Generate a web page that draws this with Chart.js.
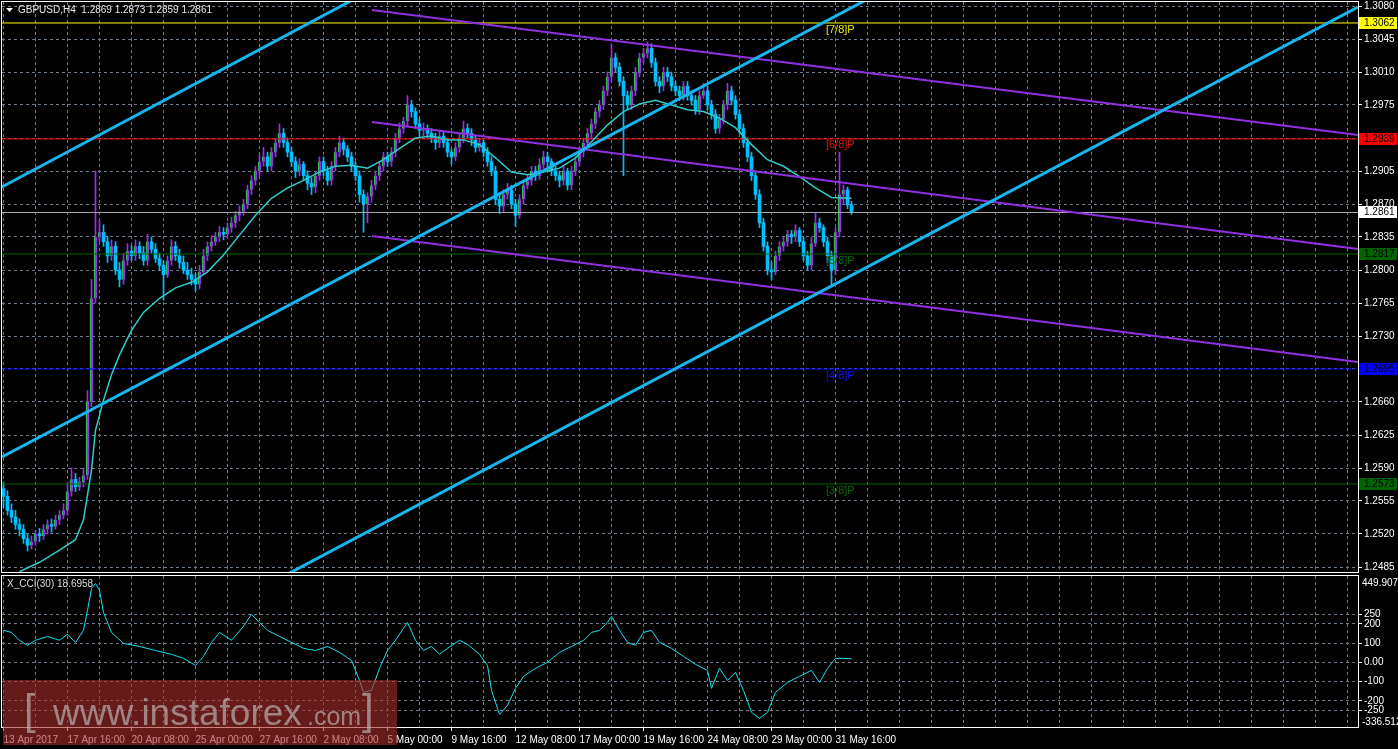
<!DOCTYPE html>
<html>
<head>
<meta charset="utf-8">
<script src="https://cdn.jsdelivr.net/npm/chart.js@4"></script>
<style>
  html, body { margin: 0; padding: 0; background: #000; overflow: hidden; }
  #wrap { position: relative; width: 1398px; height: 749px; }
  #main { position: absolute; left: 0; top: 0; }
  #cci { position: absolute; left: 0; top: 574px; }
</style>
</head>
<body>
<div id="wrap">
  <canvas id="main" width="1398" height="574"></canvas>
  <canvas id="cci" width="1398" height="175"></canvas>
</div>
<script>
// GBPUSD H4, 13 Apr – 1 Jun 2017. One entry per 4h bar, bar index = position.
const open = [
  1.2568,1.2560,1.2545,1.2538,1.2530,1.2525,1.2515,1.2508,1.2512,1.2520,
  1.2518,1.2525,1.2530,1.2528,1.2535,1.2540,1.2545,1.2565,1.2578,1.2570,
  1.2575,1.2582,1.2660,1.2770,1.2835,1.2840,1.2830,1.2815,1.2825,1.2800,
  1.2790,1.2810,1.2820,1.2815,1.2825,1.2818,1.2810,1.2830,1.2822,1.2812,
  1.2805,1.2795,1.2810,1.2825,1.2815,1.2808,1.2800,1.2795,1.2790,1.2785,
  1.2798,1.2815,1.2825,1.2830,1.2835,1.2840,1.2838,1.2845,1.2850,1.2858,
  1.2862,1.2870,1.2885,1.2895,1.2905,1.2915,1.2920,1.2910,1.2925,1.2935,
  1.2945,1.2935,1.2925,1.2915,1.2905,1.2912,1.2900,1.2892,1.2888,1.2900,
  1.2915,1.2905,1.2895,1.2910,1.2925,1.2935,1.2928,1.2920,1.2910,1.2900,
  1.2880,1.2870,1.2878,1.2890,1.2900,1.2910,1.2920,1.2915,1.2925,1.2940,
  1.2950,1.2958,1.2975,1.2968,1.2955,1.2948,1.2950,1.2945,1.2940,1.2935,
  1.2942,1.2935,1.2925,1.2920,1.2930,1.2940,1.2950,1.2945,1.2938,1.2930,
  1.2935,1.2925,1.2915,1.2905,1.2875,1.2868,1.2880,1.2885,1.2870,1.2858,
  1.2875,1.2890,1.2895,1.2905,1.2900,1.2912,1.2920,1.2915,1.2905,1.2900,
  1.2895,1.2905,1.2890,1.2905,1.2915,1.2925,1.2935,1.2945,1.2955,1.2968,
  1.2975,1.2990,1.3005,1.3025,1.3015,1.3000,1.2985,1.2975,1.2990,1.3010,
  1.3025,1.3030,1.3035,1.3020,1.3000,1.2995,1.3010,1.3005,1.2995,1.2990,
  1.2985,1.2995,1.2985,1.2980,1.2970,1.2985,1.2990,1.2975,1.2965,1.2950,
  1.2960,1.2975,1.2990,1.2980,1.2965,1.2950,1.2935,1.2920,1.2900,1.2880,
  1.2850,1.2825,1.2800,1.2798,1.2815,1.2825,1.2830,1.2838,1.2835,1.2842,
  1.2830,1.2815,1.2805,1.2828,1.2850,1.2845,1.2830,1.2815,1.2800,1.2840,
  1.2880,1.2885,1.2869
];
const high = [
  1.2575,1.2566,1.2552,1.2545,1.2536,1.2530,1.2520,1.2518,1.2524,1.2526,
  1.2530,1.2535,1.2536,1.2540,1.2545,1.2552,1.2575,1.2590,1.2584,1.2580,
  1.2590,1.2672,1.2790,1.2905,1.2852,1.2848,1.2836,1.2832,1.2830,1.2808,
  1.2818,1.2828,1.2826,1.2832,1.2830,1.2825,1.2838,1.2835,1.2828,1.2818,
  1.2810,1.2815,1.2832,1.2830,1.2822,1.2815,1.2808,1.2802,1.2796,1.2805,
  1.2822,1.2830,1.2836,1.2840,1.2846,1.2845,1.2850,1.2856,1.2862,1.2868,
  1.2875,1.2890,1.2900,1.2910,1.2922,1.2930,1.2925,1.2930,1.2940,1.2955,
  1.2950,1.2940,1.2930,1.2920,1.2918,1.2915,1.2905,1.2898,1.2905,1.2920,
  1.2920,1.2910,1.2915,1.2930,1.2942,1.2940,1.2932,1.2925,1.2915,1.2905,
  1.2885,1.2882,1.2895,1.2905,1.2915,1.2925,1.2925,1.2930,1.2945,1.2956,
  1.2962,1.2985,1.2980,1.2972,1.2960,1.2956,1.2954,1.2950,1.2945,1.2948,
  1.2946,1.2940,1.2928,1.2935,1.2945,1.2958,1.2955,1.2950,1.2942,1.2940,
  1.2938,1.2930,1.2920,1.2910,1.2880,1.2885,1.2892,1.2890,1.2875,1.2880,
  1.2895,1.2900,1.2910,1.2910,1.2918,1.2926,1.2925,1.2918,1.2910,1.2905,
  1.2910,1.2908,1.2910,1.2920,1.2930,1.2940,1.2950,1.2960,1.2972,1.2980,
  1.2995,1.3010,1.3040,1.3030,1.3020,1.3005,1.2990,1.2995,1.3015,1.3030,
  1.3035,1.3042,1.3040,1.3025,1.3005,1.3015,1.3015,1.3010,1.3000,1.2995,
  1.3000,1.3000,1.2990,1.2985,1.2990,1.2998,1.2995,1.2980,1.2970,1.2965,
  1.2980,1.2998,1.2995,1.2985,1.2970,1.2955,1.2940,1.2925,1.2905,1.2885,
  1.2855,1.2830,1.2808,1.2820,1.2830,1.2835,1.2842,1.2842,1.2848,1.2845,
  1.2835,1.2820,1.2835,1.2860,1.2855,1.2848,1.2835,1.2820,1.2845,1.2925,
  1.2890,1.2888,1.2873
];
const low = [
  1.2548,1.2540,1.2532,1.2525,1.2518,1.2510,1.2502,1.2504,1.2508,1.2512,
  1.2514,1.2520,1.2522,1.2525,1.2530,1.2536,1.2540,1.2560,1.2565,1.2566,
  1.2570,1.2578,1.2655,1.2765,1.2830,1.2825,1.2808,1.2810,1.2795,1.2782,
  1.2785,1.2805,1.2810,1.2810,1.2812,1.2805,1.2805,1.2818,1.2808,1.2800,
  1.2768,1.2792,1.2805,1.2810,1.2802,1.2796,1.2790,1.2784,1.2778,1.2780,
  1.2795,1.2810,1.2820,1.2826,1.2830,1.2832,1.2834,1.2840,1.2845,1.2852,
  1.2858,1.2865,1.2880,1.2890,1.2900,1.2910,1.2905,1.2905,1.2920,1.2930,
  1.2930,1.2920,1.2910,1.2898,1.2900,1.2895,1.2885,1.2880,1.2882,1.2895,
  1.2900,1.2890,1.2890,1.2905,1.2920,1.2922,1.2915,1.2905,1.2895,1.2872,
  1.2840,1.2850,1.2872,1.2885,1.2895,1.2905,1.2910,1.2910,1.2920,1.2935,
  1.2945,1.2952,1.2962,1.2950,1.2942,1.2942,1.2940,1.2935,1.2928,1.2930,
  1.2930,1.2920,1.2912,1.2916,1.2925,1.2935,1.2940,1.2932,1.2925,1.2926,
  1.2920,1.2910,1.2900,1.2870,1.2860,1.2862,1.2875,1.2865,1.2846,1.2855,
  1.2870,1.2886,1.2890,1.2895,1.2896,1.2908,1.2910,1.2900,1.2895,1.2888,
  1.2890,1.2885,1.2885,1.2900,1.2910,1.2920,1.2930,1.2940,1.2950,1.2962,
  1.2970,1.2985,1.3000,1.3010,1.2995,1.2900,1.2970,1.2970,1.2985,1.3005,
  1.3020,1.3025,1.3015,1.2995,1.2988,1.2990,1.3000,1.2990,1.2985,1.2980,
  1.2980,1.2980,1.2975,1.2965,1.2965,1.2982,1.2970,1.2960,1.2945,1.2945,
  1.2955,1.2970,1.2975,1.2960,1.2945,1.2930,1.2915,1.2895,1.2875,1.2845,
  1.2820,1.2795,1.2790,1.2795,1.2810,1.2820,1.2825,1.2828,1.2830,1.2825,
  1.2810,1.2800,1.2800,1.2825,1.2840,1.2825,1.2808,1.2782,1.2795,1.2835,
  1.2870,1.2865,1.2859
];
const close = [
  1.2560,1.2545,1.2538,1.2530,1.2525,1.2515,1.2508,1.2512,1.2520,1.2518,
  1.2525,1.2530,1.2528,1.2535,1.2540,1.2545,1.2565,1.2578,1.2570,1.2575,
  1.2582,1.2660,1.2770,1.2835,1.2840,1.2830,1.2815,1.2825,1.2800,1.2790,
  1.2810,1.2820,1.2815,1.2825,1.2818,1.2810,1.2830,1.2822,1.2812,1.2805,
  1.2795,1.2810,1.2825,1.2815,1.2808,1.2800,1.2795,1.2790,1.2785,1.2798,
  1.2815,1.2825,1.2830,1.2835,1.2840,1.2838,1.2845,1.2850,1.2858,1.2862,
  1.2870,1.2885,1.2895,1.2905,1.2915,1.2920,1.2910,1.2925,1.2935,1.2945,
  1.2935,1.2925,1.2915,1.2905,1.2912,1.2900,1.2892,1.2888,1.2900,1.2915,
  1.2905,1.2895,1.2910,1.2925,1.2935,1.2928,1.2920,1.2910,1.2900,1.2880,
  1.2870,1.2878,1.2890,1.2900,1.2910,1.2920,1.2915,1.2925,1.2940,1.2950,
  1.2958,1.2975,1.2968,1.2955,1.2948,1.2950,1.2945,1.2940,1.2935,1.2942,
  1.2935,1.2925,1.2920,1.2930,1.2940,1.2950,1.2945,1.2938,1.2930,1.2935,
  1.2925,1.2915,1.2905,1.2875,1.2868,1.2880,1.2885,1.2870,1.2858,1.2875,
  1.2890,1.2895,1.2905,1.2900,1.2912,1.2920,1.2915,1.2905,1.2900,1.2895,
  1.2905,1.2890,1.2905,1.2915,1.2925,1.2935,1.2945,1.2955,1.2968,1.2975,
  1.2990,1.3005,1.3025,1.3015,1.3000,1.2985,1.2975,1.2990,1.3010,1.3025,
  1.3030,1.3035,1.3020,1.3000,1.2995,1.3010,1.3005,1.2995,1.2990,1.2985,
  1.2995,1.2985,1.2980,1.2970,1.2985,1.2990,1.2975,1.2965,1.2950,1.2960,
  1.2975,1.2990,1.2980,1.2965,1.2950,1.2935,1.2920,1.2900,1.2880,1.2850,
  1.2825,1.2800,1.2798,1.2815,1.2825,1.2830,1.2838,1.2835,1.2842,1.2830,
  1.2815,1.2805,1.2828,1.2850,1.2845,1.2830,1.2815,1.2800,1.2840,1.2880,
  1.2885,1.2869,1.2861
];

// moving average: [bar, price]
const maPoints = [
  [4,1.2480],[9,1.2490],[14,1.2503],[18,1.2514],[20,1.2535],[22,1.2588],[23,1.2630],
  [25,1.2662],[27,1.2689],[29,1.2710],[32,1.2736],[35,1.2755],[39,1.2770],[43,1.2781],
  [47,1.2787],[51,1.2798],[55,1.2816],[59,1.2837],[63,1.2858],[67,1.2876],[71,1.2887],
  [75,1.2895],[79,1.2904],[83,1.2910],[87,1.2911],[91,1.2908],[95,1.2917],[99,1.2929],
  [103,1.2940],[107,1.2942],[111,1.2938],[115,1.2938],[119,1.2933],[123,1.2919],
  [127,1.2904],[131,1.2901],[135,1.2904],[139,1.2908],[143,1.2919],[147,1.2936],
  [151,1.2954],[155,1.2968],[159,1.2976],[163,1.2980],[167,1.2975],[171,1.2970],
  [175,1.2968],[179,1.2961],[183,1.2951],[187,1.2933],[191,1.2917],[195,1.2910],
  [199,1.2899],[203,1.2887],[207,1.2877],[212,1.2876]
];

// X_CCI(30): [bar, value]
const cciPoints = [
  [0,167],[2,156],[4,115],[6,89],[8,115],[11,135],[14,115],[16,146],[18,104],[20,167],
  [21,271],[22,385],[23,411],[24,375],[25,260],[27,156],[30,99],[34,83],[38,62],[42,42],
  [45,21],[48,-16],[50,31],[52,104],[54,156],[57,115],[60,188],[62,250],[64,208],[66,167],
  [69,135],[72,104],[75,73],[78,62],[81,83],[84,52],[87,10],[89,-94],[90,-156],[92,-146],
  [94,-31],[96,62],[98,115],[100,177],[101,208],[103,115],[105,62],[107,83],[109,42],
  [111,73],[114,115],[116,94],[119,42],[121,-16],[122,-146],[124,-271],[126,-224],
  [128,-135],[130,-73],[133,-31],[136,0],[139,52],[142,83],[145,115],[147,156],[149,167],
  [151,208],[152,240],[154,167],[156,104],[158,89],[160,156],[162,167],[164,104],[167,73],
  [170,31],[173,-10],[176,-42],[177,-135],[179,-31],[181,-94],[183,-52],[185,-146],
  [187,-260],[189,-292],[191,-260],[193,-156],[196,-104],[199,-73],[202,-42],[204,-104],
  [206,-31],[208,21],[210,21],[212,18.6958]
];

// time axis labels every 16 bars
const timeLabels = ['13 Apr 2017','17 Apr 16:00','20 Apr 08:00','25 Apr 00:00','27 Apr 16:00',
  '2 May 08:00','5 May 00:00','9 May 16:00','12 May 08:00','17 May 00:00','19 May 16:00',
  '24 May 08:00','29 May 00:00','31 May 16:00'];
const priceTicks = [1.3080,1.3045,1.3010,1.2975,1.2940,1.2905,1.2870,1.2835,1.2800,1.2765,
  1.2730,1.2695,1.2660,1.2625,1.2590,1.2555,1.2520,1.2485];
const cciTicks = [449.9074,250,200,100,0,-100,-200,-250,-336.512];
const cciTickText = ['449.9074','250','200','100','0.00','-100','-200','-250','-336.512'];

// Murrey math levels
const levels = [1.3062, 1.2939, 1.2861, 1.2817, 1.2695, 1.2573];
const levelText = ['1.3062','1.2939','1.2861','1.2817','1.2695','1.2573'];
const murreyText = ['[7/8]P','[6/8]P','','[5/8]P','[4/8]P','[3/8]P'];

// drawn objects: [bar0, price0, bar1, price1]
const cyanChannel = [
  [-0.875,1.28870, 89.1,1.30906],
  [-0.375,1.26017, 216.6,1.30885],
  [70.6,1.24765, 338.6,1.30789]
];
const pitchfork = [
  [92.1,1.30758, 338.6,1.29432],
  [92.1,1.29570, 338.6,1.28223],
  [92.1,1.28361, 338.6,1.27024]
];

// ---- styling / layout ----
const BULL = '#9b2ff2', BULL_EDGE = '#00ff00', BEAR = '#00bfff';
const GRID = '#6f7d8c';
const levelColors = ['#ffff00','#ff0000','#a8a8a8','#006400','#0000ff','#006400'];
const tagColors = ['#ffff00','#ff0000','#ffffff','#006400','#0000ff','#006400'];
const murreyColors = ['#e8e800','#e01010','','#0b6a0b','#1010ff','#0b6a0b'];
const FONT = '"Liberation Sans", Arial, sans-serif';
const PX_PER_PRICE = 33 / 0.0035;
const Y_MAX = 1.3080 + 4 / PX_PER_PRICE;
const Y_MIN = Y_MAX - 570 / PX_PER_PRICE;
const X_MIN = -0.375;
const X_MAX = X_MIN + 1356 / 4;
const MURREY_BAR = 205.6;

Chart.defaults.font.family = FONT;
Chart.defaults.font.size = 10;
Chart.defaults.color = '#ffffff';

const isBull = i => close[i] >= open[i];
const line = (pts, color, width) => ({
  type: 'line', data: pts, borderColor: color, borderWidth: width,
  pointRadius: 0, fill: false, tension: 0
});

const datasets = [];
cyanChannel.forEach(s => datasets.push(line([{x: s[0], y: s[1]}, {x: s[2], y: s[3]}], '#18b4ee', 3)));
pitchfork.forEach(s => datasets.push(line([{x: s[0], y: s[1]}, {x: s[2], y: s[3]}], '#9030e0', 2)));
datasets.push(line(maPoints.map(p => ({x: p[0], y: p[1]})), '#30cccc', 1.5));
levels.forEach((v, k) => datasets.push(line([{x: X_MIN, y: v}, {x: X_MAX, y: v}], levelColors[k], 1)));
datasets.push({
  type: 'bar', grouped: false, barThickness: 3, minBarLength: 1, borderSkipped: false,
  data: open.map((o, i) => ({x: i, y: [o, close[i]]})),
  backgroundColor: c => isBull(c.dataIndex) ? BULL : BEAR,
  borderColor: c => isBull(c.dataIndex) ? BULL_EDGE : BEAR,
  borderWidth: c => isBull(c.dataIndex) ? {left: 1, top: 0, right: 0, bottom: 0} : 0
});
datasets.push({
  type: 'bar', grouped: false, barThickness: 1, borderWidth: 0,
  data: low.map((l, i) => ({x: i, y: [l, high[i]]})),
  backgroundColor: c => isBull(c.dataIndex) ? BULL : BEAR
});

const mainDecor = {
  id: 'mainDecor',
  afterDraw(chart) {
    const {ctx, chartArea: a, scales: {x, y}} = chart;
    ctx.save();
    ctx.strokeStyle = '#ffffff';
    ctx.lineWidth = 1;
    ctx.strokeRect(a.left - 0.5, a.top - 0.5, a.right - a.left + 1, a.bottom - a.top + 1);

    ctx.font = '10px ' + FONT;
    ctx.textBaseline = 'middle';
    levels.forEach((v, k) => {
      const py = Math.round(y.getPixelForValue(v));
      ctx.fillStyle = tagColors[k];
      ctx.fillRect(a.right + 1, py - 6, 38, 12);
      ctx.fillStyle = '#000000';
      ctx.fillText(levelText[k], a.right + 6, py);
    });

    ctx.font = '11px ' + FONT;
    ctx.textBaseline = 'top';
    const mx = x.getPixelForValue(MURREY_BAR);
    levels.forEach((v, k) => {
      if (!murreyText[k]) return;
      ctx.fillStyle = murreyColors[k];
      ctx.fillText(murreyText[k], mx, y.getPixelForValue(v) + 1);
    });

    ctx.fillStyle = '#ffffff';
    ctx.beginPath();
    ctx.moveTo(6, 8); ctx.lineTo(13, 8); ctx.lineTo(9.5, 12); ctx.closePath();
    ctx.fill();
    ctx.font = '10px ' + FONT;
    ctx.textBaseline = 'middle';
    ctx.fillStyle = '#e6e6e6';
    ctx.fillText('GBPUSD,H4  ' + open[open.length - 1].toFixed(4) + ' ' +
      high[high.length - 1].toFixed(4) + ' ' + low[low.length - 1].toFixed(4) + ' ' +
      close[close.length - 1].toFixed(4), 18, 10.5);
    ctx.restore();
  }
};

new Chart(document.getElementById('main'), {
  type: 'bar',
  data: { datasets },
  options: {
    responsive: false, animation: false, devicePixelRatio: 1,
    layout: { padding: { left: 2, top: 2, right: 0, bottom: 2 } },
    plugins: { legend: { display: false }, tooltip: { enabled: false } },
    scales: {
      x: {
        type: 'linear', min: X_MIN, max: X_MAX, offset: false,
        afterBuildTicks: s => { s.ticks = []; for (let i = 0; i <= X_MAX; i += 8) s.ticks.push({value: i}); },
        ticks: { display: false },
        grid: { color: GRID, drawTicks: false, offset: false },
        border: { display: false, dash: [3, 3] },
        afterFit: s => { s.height = 0; s.paddingLeft = 0; s.paddingRight = 0; }
      },
      y: {
        position: 'right', min: Y_MIN, max: Y_MAX,
        afterBuildTicks: s => { s.ticks = priceTicks.map(v => ({value: v})); },
        ticks: { autoSkip: false, padding: 2, color: '#ffffff', callback: v => v.toFixed(4) },
        grid: { color: GRID, tickColor: '#ffffff', tickLength: 4 },
        border: { color: '#ffffff', dash: [3, 3] },
        afterFit: s => { s.width = 40; s.paddingTop = 0; s.paddingBottom = 0; }
      }
    }
  },
  plugins: [mainDecor]
});

const cciDecor = {
  id: 'cciDecor',
  afterDraw(chart) {
    const {ctx, chartArea: a} = chart;
    ctx.save();
    ctx.strokeStyle = '#ffffff';
    ctx.lineWidth = 1;
    ctx.strokeRect(a.left - 0.5, a.top - 0.5, a.right - a.left + 1, a.bottom - a.top + 1);

    ctx.font = '10px ' + FONT;
    ctx.textBaseline = 'middle';
    ctx.fillStyle = '#ffffff';
    ctx.fillText(cciTickText[0], a.right + 4, a.top + 7);
    ctx.fillText(cciTickText[cciTickText.length - 1], a.right + 4, a.bottom - 5);
    ctx.fillStyle = '#dcdcdc';
    ctx.fillText('X_CCI(30) ' + cciPoints[cciPoints.length - 1][1].toFixed(4), 7, a.top + 8);

    // watermark
    ctx.fillStyle = 'rgba(170,45,45,0.6)';
    ctx.fillRect(3, 106, 394, 65);
    ctx.fillStyle = 'rgba(200,200,200,0.6)';
    ctx.textBaseline = 'alphabetic';
    ctx.font = '300 42px ' + FONT;
    ctx.fillText('[', 24, 150);
    ctx.fillText(']', 362, 150);
    ctx.font = '37px ' + FONT;
    ctx.fillText('www.instaforex', 53, 151);
    ctx.font = '25px ' + FONT;
    ctx.fillText('.com', 307, 151);
    ctx.restore();
  }
};

new Chart(document.getElementById('cci'), {
  type: 'line',
  data: { datasets: [line(cciPoints.map(p => ({x: p[0], y: p[1]})), '#19dff0', 1)] },
  options: {
    responsive: false, animation: false, devicePixelRatio: 1,
    layout: { padding: { left: 2, top: 2, right: 0, bottom: 0 } },
    plugins: { legend: { display: false }, tooltip: { enabled: false } },
    scales: {
      x: {
        type: 'linear', min: X_MIN, max: X_MAX, offset: false,
        afterBuildTicks: s => { s.ticks = []; for (let i = 0; i <= X_MAX; i += 8) s.ticks.push({value: i}); },
        ticks: {
          autoSkip: false, maxRotation: 0, align: 'start', padding: 3, color: '#ffffff',
          callback: v => (v % 16 === 0 && timeLabels[v / 16]) ? timeLabels[v / 16] : ''
        },
        grid: {
          color: GRID, tickLength: 4,
          tickColor: c => (c.tick && c.tick.value % 16 === 0 && c.tick.value / 16 < timeLabels.length) ? '#ffffff' : 'rgba(0,0,0,0)'
        },
        border: { display: false, dash: [3, 3] },
        afterFit: s => { s.height = 22; s.paddingLeft = 0; s.paddingRight = 0; }
      },
      y: {
        position: 'right', min: cciTicks[cciTicks.length - 1], max: cciTicks[0],
        afterBuildTicks: s => { s.ticks = cciTicks.map(v => ({value: v})); },
        ticks: {
          autoSkip: false, padding: 2, color: '#ffffff',
          callback: (v, i) => (i === 0 || i === cciTicks.length - 1) ? '' : cciTickText[i]
        },
        grid: {
          tickLength: 4,
          color: c => (c.index === 0 || c.index === cciTicks.length - 1) ? 'rgba(0,0,0,0)' : GRID,
          tickColor: c => (c.index === 0 || c.index === cciTicks.length - 1) ? 'rgba(0,0,0,0)' : '#ffffff'
        },
        border: { color: '#ffffff', dash: [3, 3] },
        afterFit: s => { s.width = 40; s.paddingTop = 0; s.paddingBottom = 0; }
      }
    }
  },
  plugins: [cciDecor]
});
</script>
</body>
</html>
